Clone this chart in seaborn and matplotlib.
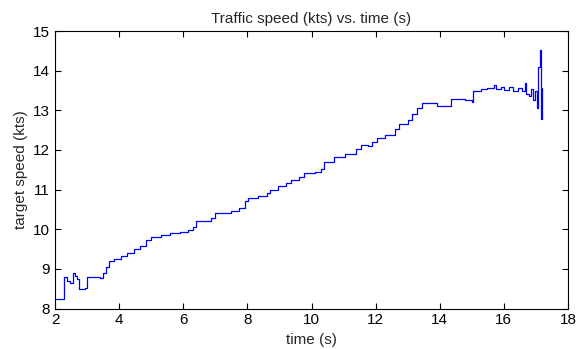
import matplotlib
matplotlib.use("Agg")
import matplotlib.pyplot as plt
import seaborn as sns
import pandas as pd

time_s = [2.02, 2.27, 2.38, 2.46, 2.55, 2.62, 2.68, 2.75, 2.92, 3.0, 3.4, 3.5, 3.58, 3.68,
          3.85, 4.05, 4.25, 4.45, 4.65, 4.85, 4.98, 5.3, 5.6, 5.9, 6.15, 6.3, 6.4, 6.85,
          7.0, 7.5, 7.75, 7.92, 8.03, 8.34, 8.62, 8.7, 8.96, 9.2, 9.35, 9.5, 9.62, 9.78,
          10.1, 10.3, 10.4, 10.7, 11.05, 11.4, 11.55, 11.75, 11.9, 12.05, 12.3, 12.6,
          12.72, 13.0, 13.15, 13.3, 13.45, 13.9, 14.35, 14.8, 15.0, 15.05, 15.3, 15.47,
          15.7, 15.75, 15.9, 16.0, 16.15, 16.3, 16.45, 16.55, 16.65, 16.7, 16.78, 16.85,
          16.9, 16.97, 17.02, 17.07, 17.12, 17.16, 17.2]
speed_kts = [8.25, 8.8, 8.7, 8.65, 8.9, 8.82, 8.75, 8.48, 8.53, 8.8, 8.77, 8.9, 9.05, 9.2,
             9.25, 9.33, 9.4, 9.5, 9.58, 9.72, 9.8, 9.86, 9.9, 9.92, 9.98, 10.05, 10.2, 10.28,
             10.4, 10.47, 10.53, 10.7, 10.78, 10.84, 10.92, 11.0, 11.08, 11.16, 11.25, 11.23,
             11.33, 11.41, 11.45, 11.52, 11.7, 11.82, 11.9, 12.02, 12.12, 12.1, 12.2, 12.3,
             12.38, 12.52, 12.66, 12.76, 12.9, 13.05, 13.18, 13.1, 13.28, 13.25, 13.22, 13.5,
             13.53, 13.57, 13.64, 13.55, 13.6, 13.52, 13.58, 13.5, 13.56, 13.48, 13.7, 13.42,
             13.36, 13.55, 13.27, 13.5, 13.06, 14.1, 14.52, 12.78, 13.56]

df = pd.DataFrame({"time": time_s, "speed": speed_kts})

sns.set_style("ticks")
plt.rcParams["font.family"] = ["Liberation Sans", "DejaVu Sans"]

fig = plt.figure(figsize=(5.79, 3.49), dpi=100)
ax = fig.add_axes([0.095, 0.116, 0.886, 0.795])
sns.lineplot(data=df, x="time", y="speed", ax=ax, color="#0000ff", linewidth=0.9,
             drawstyle="steps-post", estimator=None, sort=False)

ax.set_xlim(2, 18)
ax.set_ylim(8, 15)
ax.set_xticks(range(2, 19, 2))
ax.set_yticks(range(8, 16))
ax.tick_params(direction="in", top=True, right=True, length=4, width=0.8,
               labelsize=11, colors="black")
for s in ax.spines.values():
    s.set_visible(True)
    s.set_linewidth(0.8)
    s.set_color("black")
ax.set_xlabel("time (s)", fontsize=11)
ax.set_ylabel("target speed (kts)", fontsize=11)
ax.set_title("Traffic speed (kts) vs. time (s)", fontsize=11)
fig.savefig("out.png", dpi=100)
